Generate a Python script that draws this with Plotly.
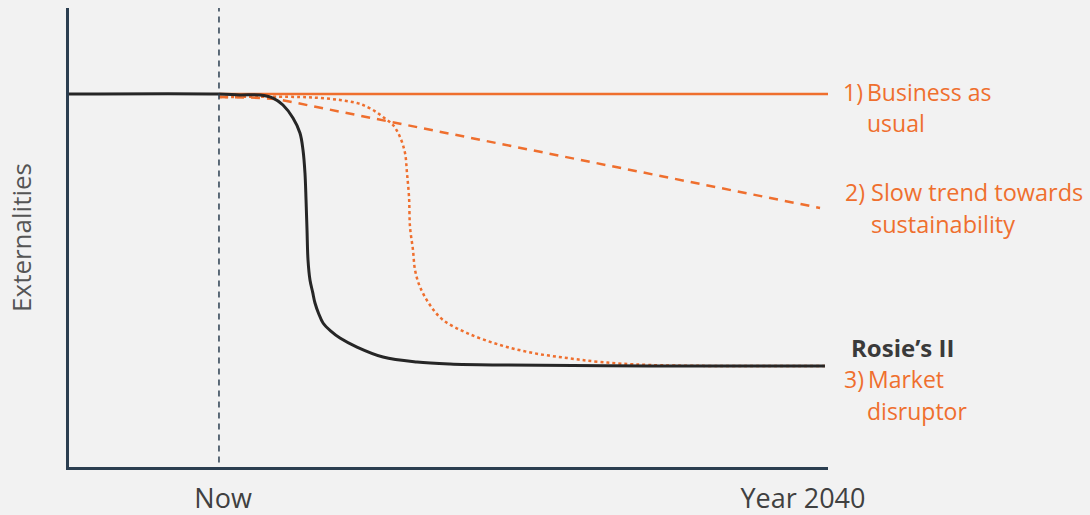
import plotly.graph_objects as go

# Scenario curves in abstract units (x: time axis 0-100, y: externalities 0-100)
now_x = 19.76
tick_vals = [20.3, 96.7]
tick_text = ["Now", "Year 2040"]

bau_x = [19.76, 100.0]
bau_y = [81.26, 81.26]

slow_x = [19.76, 23.85, 27.40, 98.95]
slow_y = [80.61, 80.50, 80.17, 56.43]

market_x = [19.76, 30.43, 33.07, 35.70, 37.94, 38.74, 40.05, 41.37, 42.69, 43.61,
            44.27, 44.53, 44.80, 44.93, 45.32, 45.59, 46.25, 47.56, 49.28, 52.44,
            56.79, 61.13, 65.61, 69.96, 76.55, 99.60]
market_y = [80.61, 80.61, 80.39, 79.96, 79.30, 78.87, 77.78, 76.25, 74.51, 71.90,
            68.41, 64.05, 58.82, 52.29, 47.28, 42.92, 39.22, 35.29, 32.03, 29.19,
            26.58, 24.84, 23.75, 22.88, 22.22, 22.00]

rosie_x = [0.0, 19.76, 22.53, 25.16, 26.88, 28.19, 29.51, 30.43, 30.83, 31.09,
           31.23, 31.36, 31.49, 31.75, 32.10, 32.41, 32.90, 33.47, 34.50, 35.70,
           37.94, 41.37, 45.85, 50.20, 56.79, 76.55, 99.60]
rosie_y = [81.26, 81.26, 81.05, 81.05, 80.39, 78.87, 76.03, 72.77, 69.06, 64.05,
           58.17, 51.63, 45.10, 40.74, 38.10, 35.73, 33.40, 31.37, 29.60, 28.10,
           26.14, 23.97, 22.88, 22.44, 22.22, 22.00, 22.00]

ORANGE = "#EF6F2E"
DARK = "#262626"
AXIS = "#2B3E50"
BG = "#F2F2F2"
FONT = "Open Sans"

fig = go.Figure()

fig.add_trace(go.Scatter(x=bau_x, y=bau_y, mode="lines",
                         line=dict(color=ORANGE, width=2.5)))
fig.add_trace(go.Scatter(x=slow_x, y=slow_y, mode="lines",
                         line=dict(color=ORANGE, width=2.5, dash="9px,7px")))
fig.add_trace(go.Scatter(x=market_x, y=market_y, mode="lines",
                         line=dict(color=ORANGE, width=2.5, dash="dot",
                                   shape="spline", smoothing=1.0)))
fig.add_trace(go.Scatter(x=rosie_x, y=rosie_y, mode="lines",
                         line=dict(color=DARK, width=3,
                                   shape="spline", smoothing=1.0)))

# "Now" marker line
fig.add_shape(type="line", xref="x", yref="paper", x0=now_x, x1=now_x,
              y0=0.01, y1=1.0, line=dict(color=AXIS, width=1.5, dash="6px,5px"))

def px_x(p):
    return (p - 69) / 759.0

def px_y(p):
    return (467 - p) / 459.0

labels = [
    # (x_px, y_px, text, color, bold, size)
    (841, 92, "1)", ORANGE, False, 23),
    (865, 92, "Business as", ORANGE, False, 23),
    (865, 123, "usual", ORANGE, False, 23),
    (843, 192, "2)", ORANGE, False, 23),
    (869, 192, "Slow trend towards", ORANGE, False, 23.5),
    (869, 224, "sustainability", ORANGE, False, 23.5),
    (849, 347, "Rosie’s II", "#3A3A3A", True, 24),
    (842, 379, "3)", ORANGE, False, 23),
    (866, 379, "Market", ORANGE, False, 23),
    (865, 411, "disruptor", ORANGE, False, 23),
]
for xp, yp, txt, col, bold, size in labels:
    fig.add_annotation(xref="paper", yref="paper", x=px_x(xp), y=px_y(yp),
                       xanchor="left", yanchor="middle", showarrow=False,
                       text=f"<b>{txt}</b>" if bold else txt,
                       font=dict(family=FONT, size=size, color=col))

fig.update_layout(
    width=1090, height=515,
    margin=dict(l=69, r=262, t=8, b=48),
    paper_bgcolor=BG, plot_bgcolor=BG,
    showlegend=False,
    xaxis=dict(range=[0, 100], showgrid=False, zeroline=False, automargin=False,
               showline=True, linecolor=AXIS, linewidth=3,
               tickvals=tick_vals, ticktext=tick_text,
               ticks="outside", ticklen=6, tickcolor=BG,
               tickfont=dict(family=FONT, size=27, color="#404040")),
    yaxis=dict(range=[0, 100], showgrid=False, zeroline=False, automargin=False,
               showline=True, linecolor=AXIS, linewidth=3,
               showticklabels=False,
               title=dict(text="Externalities", standoff=27,
                          font=dict(family=FONT, size=26, color="#555555"))),
)

fig.write_html("out.html")
